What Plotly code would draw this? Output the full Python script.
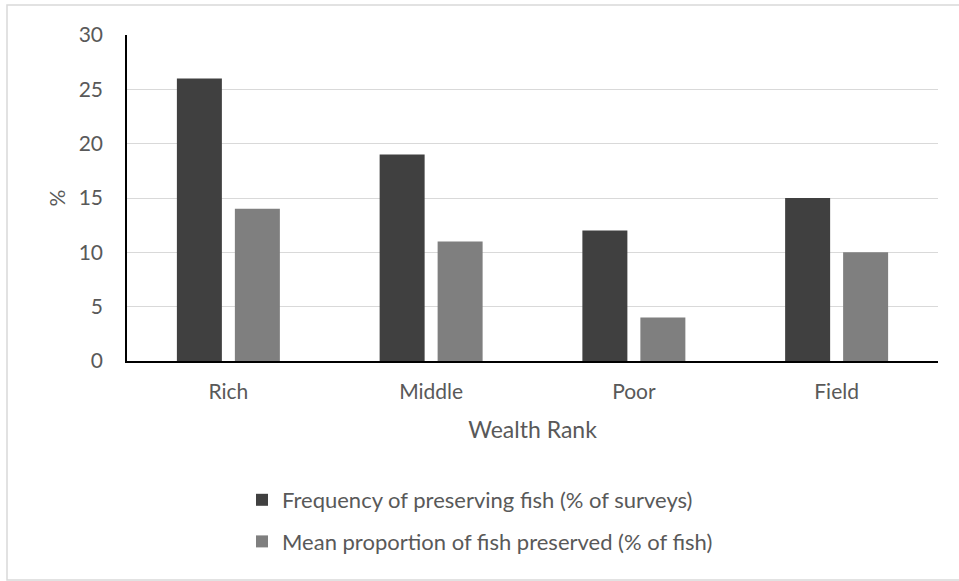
import plotly.graph_objects as go

# Wealth-rank categories and the two measured percentages
categories = ["Rich", "Middle", "Poor", "Field"]
freq_preserving = [26, 19, 12, 15]      # % of surveys
mean_preserved = [14, 11, 4, 10]        # % of fish

series_names = [
    "Frequency of preserving fish (% of surveys)",
    "Mean proportion of fish preserved (% of fish)",
]
y_ticks = [0, 5, 10, 15, 20, 25, 30]

W, H = 959, 581
L, R, T, B = 127, 21, 35, 220
FONT = "Lato"
TXT = "#595959"

fig = go.Figure()
fig.add_trace(go.Bar(
    x=categories, y=freq_preserving, name=series_names[0],
    marker=dict(color="#404040", line=dict(width=0)),
    legendgroup="a",
))
fig.add_trace(go.Bar(
    x=categories, y=mean_preserved, name=series_names[1],
    marker=dict(color="#7f7f7f", line=dict(width=0)),
    legendgroup="b",
))

pw = W - L - R
ph = H - T - B


def px_x(p):
    return (p - L) / pw


def px_y(p):
    return (H - B - p) / ph


fig.update_layout(
    width=W, height=H,
    margin=dict(l=L, r=R, t=T, b=B, pad=0),
    paper_bgcolor="white", plot_bgcolor="white",
    font=dict(family=FONT, size=21, color=TXT),
    barmode="group", bargap=0.428, bargroupgap=0.224,
    showlegend=True,
    legend=dict(
        orientation="v", x=px_x(242), xanchor="left",
        y=px_y(479), yanchor="top",
        font=dict(family=FONT, size=22, color=TXT),
        tracegroupgap=10, itemwidth=30,
        bgcolor="rgba(0,0,0,0)",
    ),
    xaxis=dict(
        showline=True, linecolor="black", linewidth=1.5,
        showgrid=False, ticks="", ticklabelstandoff=11,
        tickfont=dict(family=FONT, size=21, color=TXT),
        title=dict(text="Wealth Rank", standoff=20,
                   font=dict(family=FONT, size=23, color=TXT)),
    ),
    yaxis=dict(
        range=[0, 30], tickvals=y_ticks,
        showline=True, linecolor="black", linewidth=1.5,
        showgrid=True, gridcolor="#d9d9d9", gridwidth=1,
        zeroline=False, ticks="", ticklabelstandoff=18,
        tickfont=dict(family=FONT, size=21, color=TXT),
        title=dict(text="%", standoff=7,
                   font=dict(family=FONT, size=21, color=TXT)),
    ),
    shapes=[
        dict(type="rect", xref="paper", yref="paper",
             x0=px_x(7), x1=px_x(962), y0=px_y(580), y1=px_y(5),
             line=dict(color="#d9d9d9", width=1.5), layer="below"),
    ],
)

fig.write_html("out.html")
